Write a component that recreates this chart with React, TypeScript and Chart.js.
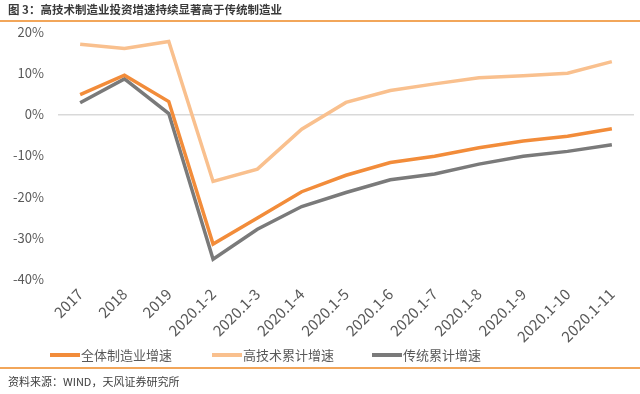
import React, { useEffect, useRef } from "react";
import { Chart, registerables } from "chart.js";

Chart.register(...registerables);

const categories = ["2017", "2018", "2019", "2020.1-2", "2020.1-3", "2020.1-4", "2020.1-5", "2020.1-6", "2020.1-7", "2020.1-8", "2020.1-9", "2020.1-10", "2020.1-11"];
const overall = [4.8, 9.5, 3.1, -31.5, -25.2, -18.8, -14.8, -11.7, -10.2, -8.1, -6.5, -5.3, -3.5];
const highTech = [17.0, 16.0, 17.7, -16.3, -13.3, -3.6, 2.9, 5.8, 7.4, 8.9, 9.4, 10.0, 12.8];
const traditional = [2.8, 8.6, 0.2, -35.2, -27.9, -22.4, -19.0, -15.9, -14.5, -12.1, -10.2, -9.0, -7.4];
const yTicks = [20, 10, 0, -10, -20, -30, -40];

const title = "图 3：高技术制造业投资增速持续显著高于传统制造业";
const source = "资料来源：WIND，天风证券研究所";
const FONT = "'Noto Sans CJK SC', 'Noto Sans', sans-serif";

const decor = {
  id: "decor",
  afterDraw(chart: any) {
    const ctx = chart.ctx;
    ctx.save();
    ctx.fillStyle = "#3a3a3a";
    ctx.font = `bold 11.5px ${FONT}`;
    ctx.textBaseline = "middle";
    ctx.textAlign = "left";
    ctx.fillText(title, 8, 10);
    ctx.fillStyle = "#F2A65A";
    ctx.fillRect(0, 20, 640, 2);
    ctx.fillRect(0, 367, 640, 2);
    ctx.fillStyle = "#404040";
    ctx.font = `11px ${FONT}`;
    ctx.fillText(source, 8, 382);
    const starts = [50, 212, 372];
    ctx.font = `13px ${FONT}`;
    chart.data.datasets.forEach((ds: any, i: number) => {
      const x = starts[i];
      ctx.fillStyle = ds.borderColor;
      ctx.fillRect(x, 353, 30, 4);
      ctx.fillStyle = "#595959";
      ctx.fillText(ds.label, x + 31, 355);
    });
    ctx.restore();
  },
};

export default function App() {
  const ref = useRef<HTMLCanvasElement>(null);
  useEffect(() => {
    document.body.style.margin = "0";
    const chart = new Chart(ref.current!, {
      type: "line",
      data: {
        labels: categories,
        datasets: [
          { label: "全体制造业增速", data: overall, borderColor: "#F28C3A", backgroundColor: "#F28C3A", borderWidth: 3.5, pointRadius: 0, tension: 0 },
          { label: "高技术累计增速", data: highTech, borderColor: "#F9C08E", backgroundColor: "#F9C08E", borderWidth: 3.5, pointRadius: 0, tension: 0 },
          { label: "传统累计增速", data: traditional, borderColor: "#7A7A7A", backgroundColor: "#7A7A7A", borderWidth: 3.5, pointRadius: 0, tension: 0 },
        ],
      },
      options: {
        animation: false,
        responsive: false,
        layout: { padding: { top: 32, bottom: 394 - 279 - 66, left: 0, right: 6 } },
        plugins: { legend: { display: false }, tooltip: { enabled: false }, title: { display: false } },
        scales: {
          x: {
            offset: true,
            grid: { display: false, drawTicks: false },
            border: { display: false },
            ticks: { autoSkip: false, minRotation: 45, maxRotation: 45, color: "#595959", font: { size: 15, family: FONT }, padding: 6 },
            afterFit: (s: any) => { s.height = 66; },
          },
          y: {
            min: -40,
            max: 20,
            afterBuildTicks: (s: any) => { s.ticks = yTicks.map((v) => ({ value: v })); },
            grid: { drawTicks: false, color: (c: any) => (c.tick && c.tick.value === 0 ? "#D9D9D9" : "rgba(0,0,0,0)"), lineWidth: 1.5 },
            border: { display: false },
            ticks: { color: "#595959", font: { size: 13, family: FONT }, padding: 14, callback: (v: any) => `${v}%` },
            afterFit: (s: any) => { s.width = 58; },
          },
        },
      },
      plugins: [decor],
    });
    return () => chart.destroy();
  }, []);
  return (
    <div style={{ position: "absolute", left: 0, top: 0, width: 640, height: 394, background: "#fff" }}>
      <canvas ref={ref} width={640} height={394} style={{ width: 640, height: 394 }} />
    </div>
  );
}
